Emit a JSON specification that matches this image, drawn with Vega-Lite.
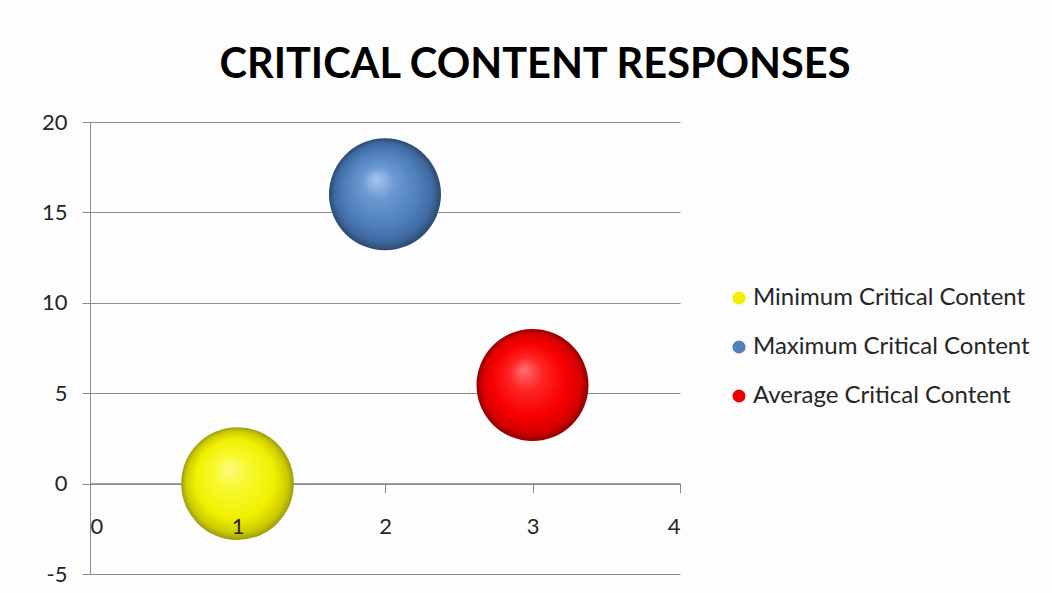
{
  "$schema": "https://vega.github.io/schema/vega-lite/v6.json",
  "width": 590,
  "height": 452,
  "autosize": {"type": "none"},
  "padding": {"left": 90, "top": 122, "right": 372, "bottom": 19},
  "background": "#fdfdfd",
  "title": {
    "text": "CRITICAL CONTENT RESPONSES",
    "font": "Lato",
    "fontWeight": "bold",
    "fontSize": 41.5,
    "color": "#000000",
    "anchor": "middle",
    "frame": "group",
    "dx": 150,
    "baseline": "alphabetic",
    "offset": -8
  },
  "data": {
    "values": [
      {"series": "Minimum Critical Content", "x": 1, "y": 0},
      {"series": "Maximum Critical Content", "x": 2, "y": 16},
      {"series": "Average Critical Content", "x": 3, "y": 5.45}
    ]
  },
  "config": {
    "view": {"stroke": null},
    "axis": {"labelFont": "Lato", "labelFontSize": 22, "labelColor": "#262626", "domainColor": "#8c8c8c", "tickColor": "#8c8c8c", "gridColor": "#8c8c8c", "titleFontSize": 0}
  },
  "encoding": {
    "x": {
      "field": "x", "type": "quantitative",
      "scale": {"domain": [0, 4], "nice": false, "zero": false},
      "axis": {"orient": "bottom", "values": [0, 1, 2, 3, 4], "labels": false, "grid": false, "offset": -90.4, "tickSize": 9, "title": null, "zindex": 0}
    },
    "y": {
      "field": "y", "type": "quantitative",
      "scale": {"domain": [-5, 20], "nice": false, "zero": false},
      "axis": {"values": [-5, 0, 5, 10, 15, 20], "labelExpr": "'' + datum.value", "grid": true, "tickSize": 8, "labelPadding": 15, "title": null, "zindex": 0}
    },
    "color": {
      "field": "series", "type": "nominal", "sort": null,
      "scale": {
        "domain": ["Minimum Critical Content", "Maximum Critical Content", "Average Critical Content"],
        "range": ["#f0f000", "#4f81bd", "#f00000"]
      },
      "legend": {
        "orient": "none", "legendX": 637, "legendY": 164, "title": null,
        "symbolSize": 170, "symbolStrokeWidth": 0, "symbolType": "circle",
        "labelFont": "Lato", "labelFontSize": 24, "labelColor": "#262626", "labelLimit": 400,
        "rowPadding": 25, "labelOffset": 2,
        "encode": {
          "symbols": {
            "update": {
              "fill": {"signal": "datum.value === 'Minimum Critical Content' ? {gradient: 'radial', x1: 0.4, y1: 0.35, r1: 0, x2: 0.5, y2: 0.5, r2: 0.5, stops: [{offset: 0, color: '#fbfb9a'}, {offset: 0.4, color: '#eeee10'}, {offset: 1, color: '#9c9c10'}]} : datum.value === 'Maximum Critical Content' ? {gradient: 'radial', x1: 0.4, y1: 0.35, r1: 0, x2: 0.5, y2: 0.5, r2: 0.5, stops: [{offset: 0, color: '#b0d0f5'}, {offset: 0.4, color: '#4f81bd'}, {offset: 1, color: '#2b4a72'}]} : {gradient: 'radial', x1: 0.4, y1: 0.35, r1: 0, x2: 0.5, y2: 0.5, r2: 0.5, stops: [{offset: 0, color: '#ff8080'}, {offset: 0.4, color: '#f00000'}, {offset: 1, color: '#900000'}]}"}
            }
          }
        }
      }
    }
  },
  "layer": [
    {
      "transform": [{"filter": "datum.series === 'Minimum Critical Content'"}],
      "mark": {"type": "circle", "size": 12700, "opacity": 1, "strokeWidth": 0,
        "fill": {"gradient": "radial", "x1": 0.42, "y1": 0.36, "r1": 0, "x2": 0.5, "y2": 0.5, "r2": 0.5,
          "stops": [{"offset": 0, "color": "#fafa88"}, {"offset": 0.3, "color": "#f8f830"}, {"offset": 0.7, "color": "#f0f000"}, {"offset": 0.9, "color": "#cccc00"}, {"offset": 1, "color": "#9c9c10"}]}}
    },
    {
      "transform": [{"filter": "datum.series === 'Maximum Critical Content'"}],
      "mark": {"type": "circle", "size": 12544, "opacity": 1, "strokeWidth": 0,
        "fill": {"gradient": "radial", "x1": 0.42, "y1": 0.36, "r1": 0, "x2": 0.5, "y2": 0.5, "r2": 0.5,
          "stops": [{"offset": 0, "color": "#a6c8f0"}, {"offset": 0.3, "color": "#6a97d0"}, {"offset": 0.65, "color": "#4f81bd"}, {"offset": 0.88, "color": "#3f6aa0"}, {"offset": 1, "color": "#2b4a72"}]}}
    },
    {
      "transform": [{"filter": "datum.series === 'Average Critical Content'"}],
      "mark": {"type": "circle", "size": 12544, "opacity": 1, "strokeWidth": 0,
        "fill": {"gradient": "radial", "x1": 0.42, "y1": 0.36, "r1": 0, "x2": 0.5, "y2": 0.5, "r2": 0.5,
          "stops": [{"offset": 0, "color": "#ff7070"}, {"offset": 0.3, "color": "#ff2424"}, {"offset": 0.65, "color": "#f80000"}, {"offset": 0.88, "color": "#d80000"}, {"offset": 1, "color": "#900000"}]}}
    },
    {
      "mark": {"type": "circle", "opacity": 0},
      "encoding": {
        "color": null,
        "y": null,
        "x": {
          "field": "x", "type": "quantitative",
          "scale": {"domain": [0, 4], "nice": false, "zero": false},
          "axis": {"orient": "bottom", "values": [0, 1, 2, 3, 4], "domain": false, "ticks": false, "grid": false, "offset": -90.4, "labelPadding": 33, "title": null, "zindex": 1}
        }
      }
    }
  ],
  "resolve": {"axis": {"x": "independent"}}
}
